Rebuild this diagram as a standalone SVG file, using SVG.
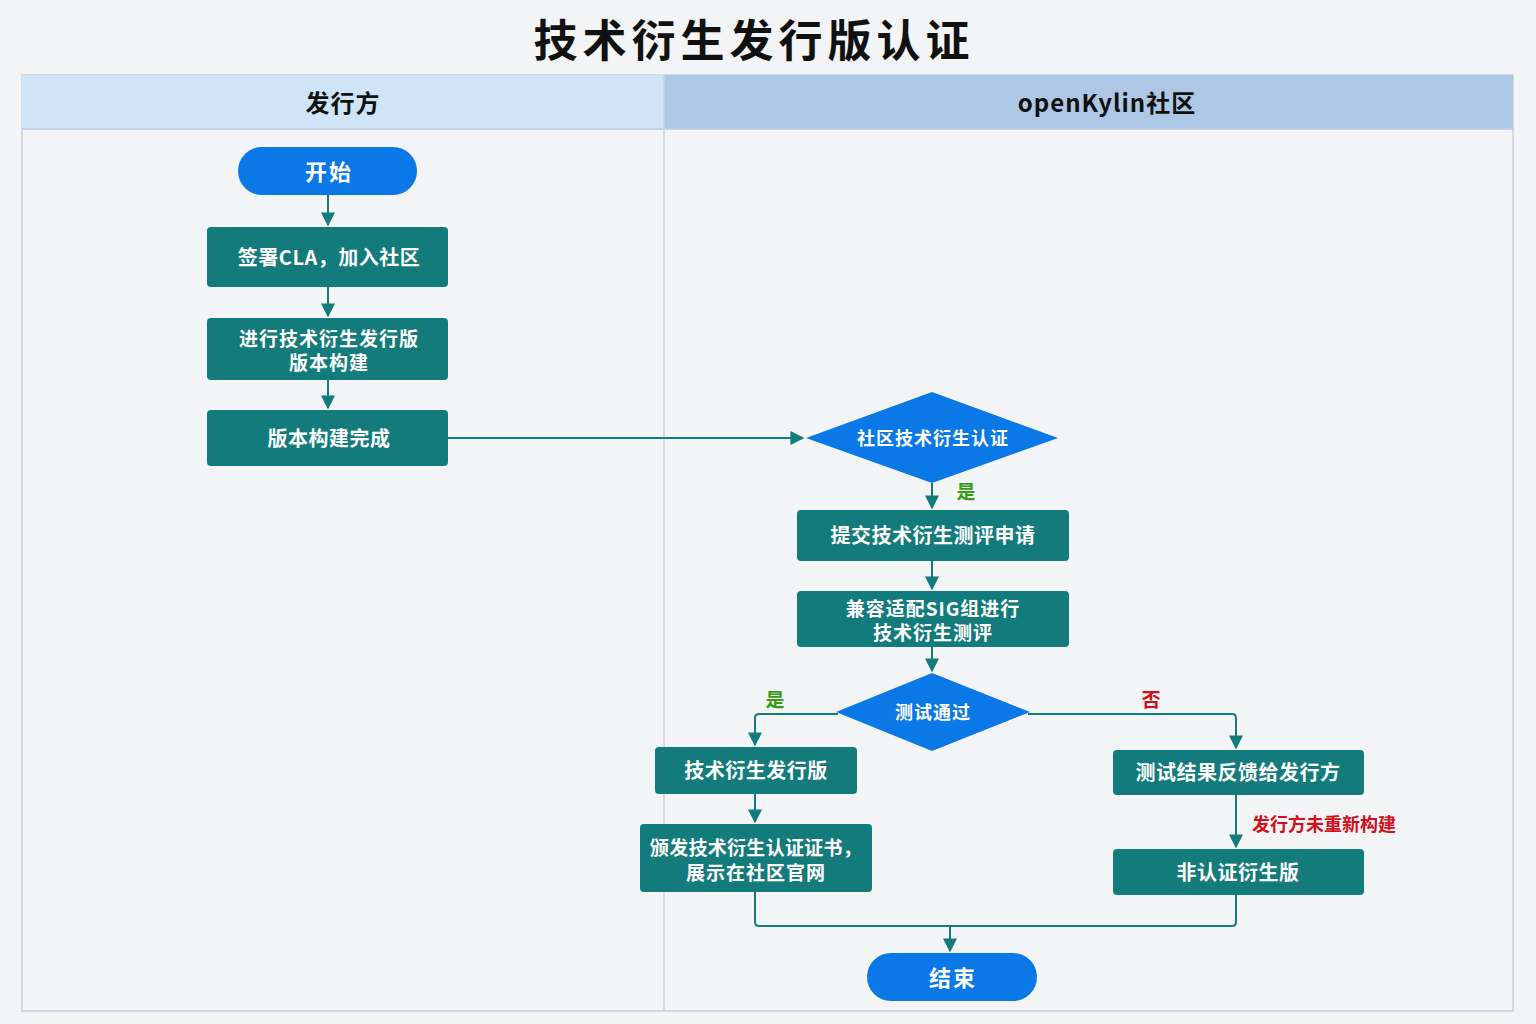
<svg xmlns="http://www.w3.org/2000/svg" width="1536" height="1024" viewBox="0 0 1536 1024">
<defs>
<style>
text{font-family:"Noto Sans CJK SC","Noto Sans",sans-serif;font-weight:700;text-anchor:middle;dominant-baseline:central}
.n{fill:#137b7b}
.t{fill:#fff;font-size:20px;letter-spacing:0.5px}
.m{fill:#fff;font-size:19px;letter-spacing:1px}
.d{fill:#fff;font-size:18px;letter-spacing:1px}
.p{fill:#fff;font-size:22px;letter-spacing:2px}
.b{fill:#0a78e6}
.c{fill:none;stroke:#137b7b;stroke-width:2}
.h{font-size:24px;fill:#111;letter-spacing:1px}
.y{fill:#3a9a1a;font-size:19px}
.r{fill:#d0101c;font-size:18px}
</style>
<marker id="ah" viewBox="0 0 10 10" refX="9" refY="5" markerWidth="14" markerHeight="14" markerUnits="userSpaceOnUse" orient="auto"><path d="M0,0L10,5L0,10z" fill="#137b7b"/></marker>
</defs>
<rect width="1536" height="1024" fill="#f3f4f5"/>
<text x="754" y="38" style="font-size:44px;fill:#111;letter-spacing:5px">技术衍生发行版认证</text>
<g id="lanes">
<rect x="22" y="75" width="1491" height="936" fill="#f3f4f5" stroke="#c8d2e0" stroke-width="1.5"/>
<rect x="22" y="75" width="642" height="54" fill="#d0e4f8"/>
<rect x="664" y="75" width="849" height="54" fill="#adc8e6"/>
<line x1="22" y1="129" x2="1513" y2="129" stroke="#b9cbe3" stroke-width="1.5"/>
<line x1="664" y1="75" x2="664" y2="1011" stroke="#c8d2e0" stroke-width="1.5"/>
<text class="h" x="343" y="101">发行方</text>
<text class="h" x="1107" y="101">openKylin社区</text>
</g>
<g id="connectors">
<line class="c" x1="328" y1="195" x2="328" y2="225" marker-end="url(#ah)"/>
<line class="c" x1="328" y1="287" x2="328" y2="316" marker-end="url(#ah)"/>
<line class="c" x1="328" y1="380" x2="328" y2="408" marker-end="url(#ah)"/>
<line class="c" x1="448" y1="438" x2="803" y2="438" marker-end="url(#ah)"/>
<line class="c" x1="932" y1="483" x2="932" y2="508" marker-end="url(#ah)"/>
<line class="c" x1="932" y1="561" x2="932" y2="589" marker-end="url(#ah)"/>
<line class="c" x1="932" y1="647" x2="932" y2="671" marker-end="url(#ah)"/>
<path class="c" d="M838,714H759Q755,714 755,718V745" marker-end="url(#ah)"/>
<path class="c" d="M1028,714H1232Q1236,714 1236,718V748" marker-end="url(#ah)"/>
<line class="c" x1="755" y1="794" x2="755" y2="822" marker-end="url(#ah)"/>
<line class="c" x1="1236" y1="795" x2="1236" y2="847" marker-end="url(#ah)"/>
<path class="c" d="M755,892V922Q755,926 759,926H1232Q1236,926 1236,922V895"/>
<line class="c" x1="950" y1="926" x2="950" y2="951" marker-end="url(#ah)"/>
<text class="y" x="966" y="490">是</text>
<text class="y" x="775" y="698">是</text>
<text class="r" x="1151" y="698" style="font-size:19px">否</text>
<text class="r" x="1324" y="823">发行方未重新构建</text>
</g>
<g id="start"><rect class="b" x="238" y="147" width="179" height="48" rx="24"/><text class="p" x="329" y="170">开始</text></g>
<g id="sign"><rect class="n" x="207" y="227" width="241" height="60" rx="4"/><text class="t" x="329" y="256">签署CLA，加入社区</text></g>
<g id="build"><rect class="n" x="207" y="318" width="241" height="62" rx="4"/><text class="m" x="329" y="337">进行技术衍生发行版</text><text class="m" x="329" y="361">版本构建</text></g>
<g id="done"><rect class="n" x="207" y="410" width="241" height="56" rx="4"/><text class="t" x="329" y="437">版本构建完成</text></g>
<g id="cert"><polygon class="b" points="932,392 1058,438 932,483 806,438"/><text class="d" x="933" y="437">社区技术衍生认证</text></g>
<g id="submit"><rect class="n" x="797" y="510" width="272" height="51" rx="4"/><text class="t" x="933" y="534">提交技术衍生测评申请</text></g>
<g id="sig"><rect class="n" x="797" y="591" width="272" height="56" rx="4"/><text class="m" x="933" y="607">兼容适配SIG组进行</text><text class="m" x="933" y="631">技术衍生测评</text></g>
<g id="pass"><polygon class="b" points="932,673 1030,712 932,751 836,712"/><text class="d" x="933" y="711">测试通过</text></g>
<g id="release"><rect class="n" x="655" y="747" width="202" height="47" rx="4"/><text class="t" x="756" y="769">技术衍生发行版</text></g>
<g id="issue"><rect class="n" x="640" y="824" width="232" height="68" rx="4"/><text class="m" x="756" y="846" style="letter-spacing:0.3px">颁发技术衍生认证证书，</text><text class="m" x="756" y="871">展示在社区官网</text></g>
<g id="feedback"><rect class="n" x="1113" y="750" width="251" height="45" rx="4"/><text class="t" x="1238" y="771">测试结果反馈给发行方</text></g>
<g id="noncert"><rect class="n" x="1113" y="849" width="251" height="46" rx="4"/><text class="t" x="1238" y="871">非认证衍生版</text></g>
<g id="end"><rect class="b" x="867" y="953" width="170" height="48" rx="24"/><text class="p" x="953" y="976">结束</text></g>
</svg>
